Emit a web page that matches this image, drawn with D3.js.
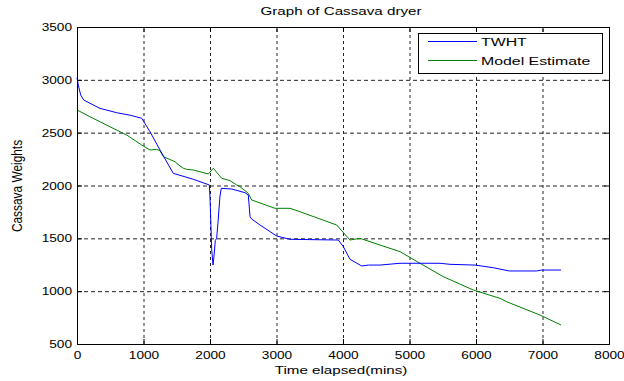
<!DOCTYPE html>
<html>
<head>
<meta charset="utf-8">
<script src="https://cdn.jsdelivr.net/npm/d3@7"></script>
<style>
  html, body { margin: 0; padding: 0; background: #fff; }
  svg { display: block; }
  text { font-family: "Liberation Sans", Arial, sans-serif; fill: #000; }
</style>
</head>
<body>
<svg id="chart" width="624" height="381"></svg>
<script>
// ---- data ----
const chartTitle = "Graph of Cassava dryer";
const xLabel = "Time elapsed(mins)";
const yLabel = "Cassava Weights";
const seriesNames = ["TWHT", "Model Estimate"];
const xTicks = [0, 1000, 2000, 3000, 4000, 5000, 6000, 7000, 8000];
const yTicks = [500, 1000, 1500, 2000, 2500, 3000, 3500];

const twhtTime = [0, 20, 55, 100, 195, 346, 597, 800, 973, 1098, 1248, 1448, 1749, 1990, 2000, 2010, 2025, 2045, 2060, 2080, 2100, 2120, 2150, 2170, 2326, 2526, 2576, 2602, 2627, 2752, 3003, 3203, 3500, 3930, 4005, 4105, 4281, 4381, 4556, 4857, 5459, 5609, 5985, 6260, 6501, 6913, 6988, 7278];
const twhtWeight = [3020, 2950, 2857, 2810, 2778, 2730, 2689, 2665, 2636, 2509, 2336, 2115, 2059, 2005, 1880, 1700, 1400, 1248, 1330, 1480, 1500, 1650, 1900, 1973, 1967, 1932, 1910, 1705, 1683, 1626, 1522, 1491, 1488, 1484, 1421, 1302, 1238, 1247, 1247, 1264, 1264, 1254, 1247, 1222, 1191, 1191, 1200, 1200];

const modelTime = [0, 195, 496, 747, 973, 1098, 1198, 1248, 1298, 1474, 1549, 1599, 1649, 1749, 1975, 2050, 2176, 2301, 2401, 2451, 2576, 2627, 2977, 3203, 3353, 3905, 4105, 4256, 4556, 4857, 5158, 5509, 5960, 6361, 6461, 6962, 7278];
const modelWeight = [2715, 2651, 2556, 2478, 2383, 2336, 2342, 2329, 2273, 2225, 2185, 2163, 2153, 2147, 2109, 2163, 2068, 2046, 2005, 1989, 1926, 1863, 1784, 1784, 1752, 1626, 1484, 1500, 1437, 1374, 1264, 1137, 1011, 932, 900, 774, 680];

// ---- layout ----
const L = 77, R = 609, T = 27, B = 344;
const SX = 1.38, SXT = 1.24, FS = 11;

const svg = d3.select("#chart");
const x = d3.scaleLinear().domain([0, 8000]).range([L, R]);
const y = d3.scaleLinear().domain([500, 3500]).range([B, T]);

// grid
const gx = svg.append("g").attr("transform", `translate(0,${B})`)
  .call(d3.axisBottom(x).tickValues(xTicks).tickSize(-(B - T)).tickFormat(""));
gx.select(".domain").remove();
gx.selectAll("line").attr("stroke", "#222").attr("stroke-dasharray", "3,3");
const gy = svg.append("g").attr("transform", `translate(${L},0)`)
  .call(d3.axisLeft(y).tickValues(yTicks).tickSize(-(R - L)).tickFormat(""));
gy.select(".domain").remove();
gy.selectAll("line").attr("stroke", "#222").attr("stroke-dasharray", "4,3");

// lines
const twht = twhtTime.map((t, i) => [t, twhtWeight[i]]);
const model = modelTime.map((t, i) => [t, modelWeight[i]]);
const line = d3.line().x(d => x(d[0])).y(d => y(d[1]));
svg.append("path").datum(model).attr("d", line)
  .attr("fill", "none").attr("stroke", "#008000").attr("stroke-width", 1);
svg.append("path").datum(twht).attr("d", line)
  .attr("fill", "none").attr("stroke", "#0000ff").attr("stroke-width", 1);

// axes (ticks inward on all four sides)
const ax = svg.append("g").attr("transform", `translate(0,${B})`)
  .call(d3.axisBottom(x).tickValues(xTicks).tickSize(-5).tickPadding(7).tickFormat(d3.format("d")));
const ay = svg.append("g").attr("transform", `translate(${L},0)`)
  .call(d3.axisLeft(y).tickValues(yTicks).tickSize(-5).tickPadding(5).tickFormat(d3.format("d")));
const axt = svg.append("g").attr("transform", `translate(0,${T})`)
  .call(d3.axisTop(x).tickValues(xTicks).tickSize(-5).tickFormat(""));
const ayr = svg.append("g").attr("transform", `translate(${R},0)`)
  .call(d3.axisRight(y).tickValues(yTicks).tickSize(-5).tickFormat(""));
[ax, ay, axt, ayr].forEach(g => {
  g.select(".domain").attr("stroke", "#000");
  g.selectAll(".tick line").attr("stroke", "#000");
  g.selectAll("text").attr("font-size", FS).attr("font-family", "Liberation Sans, Arial, sans-serif").attr("fill", "#000");
});
ax.selectAll("text").attr("transform", `scale(${SXT},1)`);
ay.selectAll("text").attr("x", -5 / SXT).attr("transform", `scale(${SXT},1)`);

// title & labels
svg.append("text").attr("transform", `translate(${(L + R) / 2 - 2},15) scale(${SX},1)`)
  .attr("text-anchor", "middle").attr("font-size", FS).text(chartTitle);
svg.append("text").attr("transform", `translate(${(L + R) / 2 - 2},374) scale(${SX},1)`)
  .attr("text-anchor", "middle").attr("font-size", FS).text(xLabel);
svg.append("text").attr("transform", `translate(22,186) rotate(-90) scale(1.08,${SX})`)
  .attr("text-anchor", "middle").attr("font-size", FS).text(yLabel);

// legend
const lg = svg.append("g");
lg.append("rect").attr("x", 418.5).attr("y", 33.5).attr("width", 184).attr("height", 40)
  .attr("fill", "#fff").attr("stroke", "#000");
const colors = ["#0000ff", "#008000"];
seriesNames.forEach((n, i) => {
  const yy = 41.5 + i * 19;
  lg.append("line").attr("x1", 428).attr("x2", 477).attr("y1", yy).attr("y2", yy)
    .attr("stroke", colors[i]).attr("stroke-width", 1);
  lg.append("text").attr("transform", `translate(481,${yy + 4}) scale(${SX},1)`)
    .attr("font-size", 11.5).text(n);
});
</script>
</body>
</html>
